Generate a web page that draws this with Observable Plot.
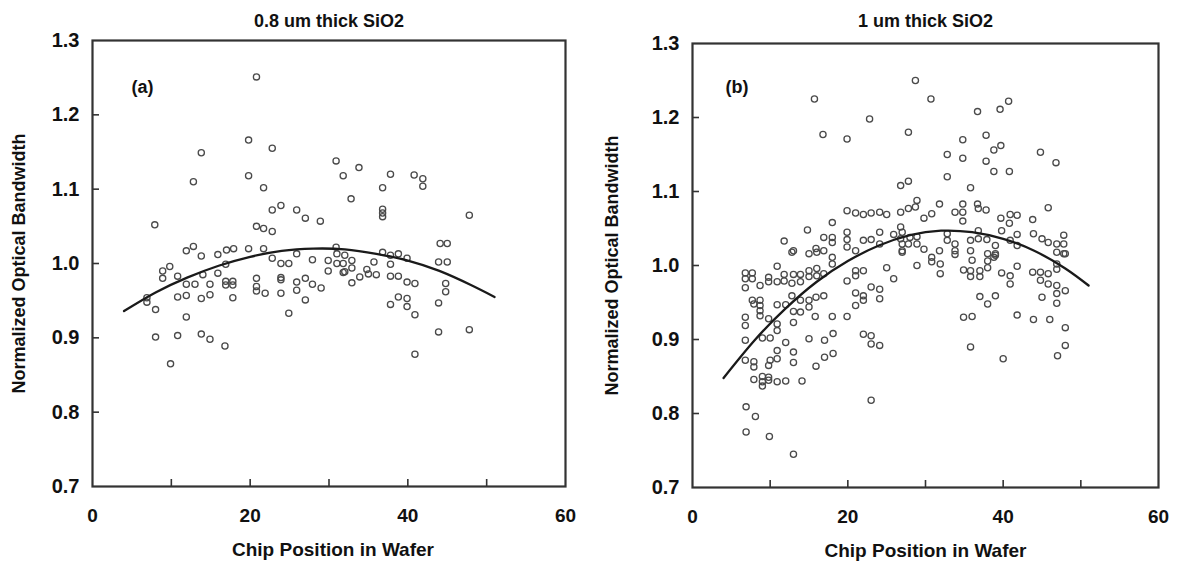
<!DOCTYPE html>
<html>
<head>
<meta charset="utf-8">
<script src="https://cdn.jsdelivr.net/npm/d3@7"></script>
<script src="https://cdn.jsdelivr.net/npm/@observablehq/plot@0.6"></script>
<style>
  html, body { margin: 0; padding: 0; background: #fff; }
  #wrap { display: flex; width: 1178px; height: 567px; }
  #wrap > div { width: 589px; height: 567px; }
</style>
</head>
<body>
<div id="wrap"><div id="pa"></div><div id="pb"></div></div>
<script>
// ---- Panel (a): 0.8 um thick SiO2 ----
const aTitle = "0.8 um thick SiO2";
const aX = [20.8,19.8,22.8,13.8,30.9,31.8,12.8,19.8,21.7,7.9,22.8,23.9,25.9,27.0,28.9,20.8,21.7,22.8,11.9,12.8,13.8,15.9,17.0,17.9,19.8,21.7,30.9,33.8,37.8,40.8,41.9,41.9,36.8,32.8,36.8,36.8,36.8,47.8,44.1,45.0,9.8,8.9,8.9,10.8,14.0,15.9,16.9,11.9,13.0,11.9,10.8,13.8,14.9,14.9,16.9,17.8,16.9,17.8,17.8,20.8,20.8,20.8,21.9,22.8,23.9,24.9,23.9,23.9,23.9,25.9,25.9,25.9,27.0,27.9,29.0,27.0,24.9,27.9,29.9,31.0,31.8,29.9,32.0,31.0,32.0,6.9,6.9,8.0,11.9,8.0,10.8,13.8,14.9,16.8,9.9,32.9,32.9,31.8,33.9,34.8,35.0,36.0,35.7,36.8,37.8,38.8,39.9,37.8,37.8,38.8,39.9,40.9,38.8,39.9,39.9,37.8,40.9,40.9,43.9,45.0,44.8,44.8,43.9,43.9,47.8,32.9];
const aY = [1.251,1.166,1.155,1.149,1.138,1.118,1.110,1.118,1.102,1.052,1.072,1.078,1.072,1.061,1.057,1.050,1.047,1.043,1.017,1.023,1.010,1.012,1.018,1.020,1.020,1.020,1.022,1.129,1.120,1.119,1.114,1.104,1.102,1.087,1.073,1.068,1.063,1.065,1.027,1.027,0.996,0.990,0.980,0.983,0.985,0.987,0.999,0.972,0.972,0.957,0.955,0.953,0.958,0.972,0.976,0.976,0.971,0.971,0.954,0.980,0.969,0.963,0.960,1.007,1.000,1.000,0.981,0.978,0.960,1.013,0.975,0.964,0.980,0.972,0.967,0.951,0.933,1.005,1.004,1.000,1.000,0.990,0.989,1.013,1.011,0.954,0.948,0.938,0.928,0.901,0.903,0.905,0.898,0.889,0.865,1.004,0.994,0.988,0.982,0.992,0.986,0.985,1.002,1.015,1.011,1.013,1.007,0.999,0.983,0.983,0.975,0.973,0.955,0.953,0.942,0.945,0.931,0.878,1.002,1.002,0.973,0.962,0.947,0.908,0.911,0.974];
const aFitX = [4,8,12,16,20,24,28,32,36,40,44,48,51];
const aFitY = [0.936,0.961,0.981,0.997,1.009,1.017,1.020,1.019,1.013,1.004,0.990,0.971,0.955];

// ---- Panel (b): 1 um thick SiO2 ----
const bTitle = "1 um thick SiO2";
const bX = [28.7,15.7,22.8,16.8,19.9,27.8,26.8,27.8,19.9,21.0,22.0,23.0,24.1,25.0,26.8,27.8,28.9,18.0,14.8,16.9,18.0,18.0,11.8,13.0,15.9,16.9,19.9,19.9,19.9,21.0,22.0,23.0,24.1,24.1,25.9,27.0,28.0,28.9,27.0,27.0,
30.7,36.7,39.6,40.7,34.8,37.8,38.8,39.7,32.8,34.8,37.8,38.8,40.8,44.8,46.8,32.8,35.8,28.7,29.8,30.8,31.8,33.8,34.8,34.8,34.8,36.7,36.8,37.8,39.7,40.9,41.8,40.8,43.8,45.8,26.8,26.8,27.8,28.9,29.8,31.8,32.8,32.8,33.8,33.8,35.8,36.8,36.8,37.9,39.0,39.0,39.8,40.9,41.8,41.8,43.9,45.0,45.8,46.9,47.8,47.8,47.8,35.8,38.0,38.8,
12.8,15.0,16.0,18.0,18.0,10.9,6.8,7.7,6.8,7.7,8.7,9.8,10.9,11.8,12.8,13.9,13.9,15.0,15.0,16.0,16.0,6.8,9.8,11.8,13.0,16.9,19.9,21.0,22.0,21.0,25.0,25.9,28.9,27.0,23.0,24.1,24.1,21.0,22.0,22.0,21.0,7.7,8.7,7.9,8.7,8.7,8.7,6.8,6.8,9.8,10.9,12.0,13.0,13.9,12.8,13.9,15.0,15.0,15.9,16.9,15.8,18.0,19.9,10.9,10.9,10.0,9.0,6.8,13.0,12.0,13.0,13.0,10.9,10.0,9.8,10.9,15.0,17.0,18.1,18.1,17.0,15.9,22.0,23.0,23.0,24.1,6.8,7.9,7.9,7.9,9.0,9.0,9.0,9.8,9.8,10.9,12.0,14.1,23.0,6.9,8.1,6.9,9.9,13.0,
30.8,30.8,31.9,31.9,33.8,36.0,34.9,35.8,35.8,37.0,37.0,38.0,38.0,39.0,39.8,40.9,40.9,41.8,43.8,44.8,45.8,44.8,45.8,46.9,46.9,48.0,46.9,46.9,46.9,48.0,46.9,45.0,37.0,39.0,38.0,34.9,36.0,41.8,43.9,46.0,48.0,48.0,47.0,35.8,40.0];
const bY = [1.250,1.225,1.198,1.177,1.171,1.180,1.108,1.114,1.074,1.071,1.069,1.071,1.072,1.069,1.072,1.077,1.088,1.058,1.048,1.038,1.038,1.031,1.033,1.020,1.023,1.020,1.045,1.035,1.025,1.020,1.034,1.035,1.045,1.029,1.042,1.045,1.038,1.039,1.029,1.020,
1.225,1.208,1.211,1.222,1.170,1.176,1.156,1.162,1.150,1.145,1.141,1.127,1.127,1.153,1.139,1.120,1.105,1.079,1.064,1.070,1.083,1.072,1.083,1.072,1.060,1.083,1.077,1.075,1.064,1.069,1.068,1.057,1.062,1.078,1.052,1.036,1.029,1.029,1.022,1.020,1.034,1.043,1.029,1.020,1.034,1.047,1.036,1.035,1.027,1.016,1.047,1.034,1.042,1.027,1.043,1.036,1.031,1.029,1.041,1.029,1.016,1.020,1.016,1.011,
1.018,1.016,1.018,1.011,1.002,0.999,0.990,0.990,0.982,0.982,0.973,0.978,0.978,0.979,0.976,0.978,0.988,0.985,0.993,0.996,0.986,0.970,0.984,0.988,0.988,0.989,0.979,0.986,0.993,0.993,0.997,0.982,1.000,1.018,0.971,0.968,0.955,0.963,0.959,0.953,0.946,0.953,0.953,0.948,0.946,0.939,0.932,0.930,0.919,0.928,0.947,0.947,0.938,0.937,0.959,0.953,0.953,0.944,0.957,0.959,0.931,0.931,0.931,0.921,0.912,0.902,0.902,0.899,0.923,0.896,0.883,0.869,0.885,0.872,0.865,0.874,0.901,0.899,0.908,0.881,0.876,0.864,0.907,0.905,0.894,0.892,0.872,0.870,0.863,0.846,0.850,0.843,0.837,0.849,0.845,0.843,0.844,0.844,0.818,0.809,0.796,0.775,0.769,0.745,
1.011,1.005,1.002,0.989,1.015,1.007,0.994,0.993,0.985,0.993,0.985,1.006,0.997,1.014,0.990,0.986,0.975,0.999,0.991,0.991,0.989,0.980,0.975,0.995,0.973,0.966,0.962,0.949,1.018,1.016,1.002,0.957,0.958,0.959,0.948,0.930,0.931,0.933,0.927,0.927,0.916,0.892,0.878,0.890,0.874];
const bFitX = [4,8,12,16,20,24,28,32,36,40,44,48,51];
const bFitY = [0.848,0.899,0.942,0.978,1.006,1.027,1.041,1.047,1.045,1.036,1.020,0.996,0.973];

// ---- shared axis / label text ----
const xLabelTicks = [0, 20, 40, 60];
const xInnerTicks = [10, 20, 30, 40, 50];
const yLabelTicks = [0.7, 0.8, 0.9, 1.0, 1.1, 1.2, 1.3];
const yInnerTicks = [0.8, 0.9, 1.0, 1.1, 1.2];
const xAxisLabel = "Chip Position in Wafer";
const yAxisLabel = "Normalized Optical Bandwidth";

function panel({xs, ys, fitX, fitY, title, tag, m, tagDx, tagDy, yLabDx, xLabDx, titleDy}) {
  const pts = xs.map((x, i) => ({x, y: ys[i]}));
  const fit = fitX.map((x, i) => ({x, y: fitY[i]}));
  const fw = 589 - m.left - m.right;
  const fh = 567 - m.top - m.bottom;
  return Plot.plot({
    width: 589, height: 567,
    marginLeft: m.left, marginRight: m.right, marginTop: m.top, marginBottom: m.bottom,
    x: {domain: [0, 60]},
    y: {domain: [0.7, 1.3]},
    style: {fontFamily: "'Liberation Sans', Arial, sans-serif", fontWeight: "bold", color: "#111", background: "#fff", overflow: "visible"},
    marks: [
      Plot.axisX(xLabelTicks, {tickSize: 0, tickPadding: 22, fontSize: 19, label: null}),
      Plot.axisY(yLabelTicks, {tickSize: 0, tickPadding: 13, fontSize: 20, tickFormat: d3.format(".1f"), label: null}),
      Plot.tickX(xInnerTicks, {x: d => d, insetTop: fh - 7, stroke: "#333", strokeWidth: 1.6}),
      Plot.tickY(yInnerTicks, {y: d => d, insetRight: fw - 7, stroke: "#333", strokeWidth: 1.6}),
      Plot.dot(pts, {x: "x", y: "y", r: 3.1, stroke: "#4a4a4a", strokeWidth: 1.3, fill: "none"}),
      Plot.line(fit, {x: "x", y: "y", curve: "natural", stroke: "#1a1a1a", strokeWidth: 2.3}),
      Plot.frame({stroke: "#333", strokeWidth: 2.2}),
      Plot.text([title], {text: d => d, frameAnchor: "top", dy: titleDy, fontSize: 18, fill: "#111"}),
      Plot.text([tag], {text: d => d, frameAnchor: "top-left", textAnchor: "start", dx: tagDx, dy: tagDy, fontSize: 18, fill: "#111"}),
      Plot.text([xAxisLabel], {text: d => d, frameAnchor: "bottom", dy: 69, dx: xLabDx, fontSize: 19, fill: "#111"}),
      Plot.text([yAxisLabel], {text: d => d, frameAnchor: "left", textAnchor: "middle", rotate: -90, dx: yLabDx, fontSize: 18, fill: "#111"})
    ]
  });
}

document.getElementById("pa").append(panel({
  xs: aX, ys: aY, fitX: aFitX, fitY: aFitY, title: aTitle, tag: "(a)",
  m: {left: 92, right: 24, top: 40, bottom: 81}, tagDx: 39, tagDy: 40, yLabDx: -73, xLabDx: 4, titleDy: -26
}));
document.getElementById("pb").append(panel({
  xs: bX, ys: bY, fitX: bFitX, fitY: bFitY, title: bTitle, tag: "(b)",
  m: {left: 103, right: 20, top: 43, bottom: 80}, tagDx: 33, tagDy: 37, yLabDx: -80, xLabDx: 0, titleDy: -29
}));
</script>
</body>
</html>
